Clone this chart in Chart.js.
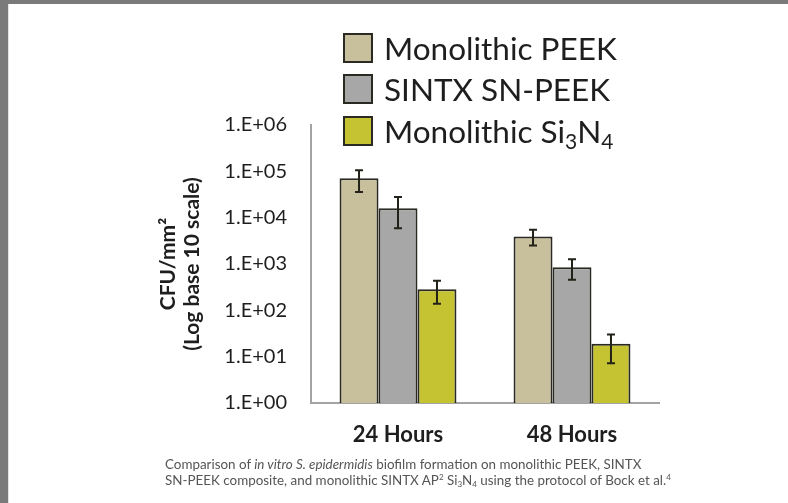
<!DOCTYPE html>
<html>
<head>
<meta charset="utf-8">
<script src="https://cdn.jsdelivr.net/npm/chart.js@4.4.1/dist/chart.umd.min.js"></script>
<style>
  html, body { margin: 0; padding: 0; background: #ffffff; overflow: hidden; }
  #page { position: relative; width: 788px; height: 503px; overflow: hidden; background: #ffffff; }
  #leftStrip { position: absolute; left: 0; top: 0; width: 8px; height: 503px; background: #7a7a7a; }
  #topStrip { position: absolute; left: 0; top: 0; width: 788px; height: 4px; background: #7a7a7a; }
  #edge { position: absolute; left: 8px; top: 4px; width: 1px; height: 499px; background: #e2e2e2; }
  #chartBox { position: absolute; left: 0; top: 0; width: 788px; height: 503px; }
  #legend { position: absolute; left: 343px; top: 27px; font-family: Lato, "Open Sans", sans-serif; color: #1e1e1e; }
  .row { display: flex; align-items: center; height: 41.5px; }
  .box { width: 26px; height: 26px; border: 2px solid #2a2a22; margin-right: 11px; box-sizing: content-box; }
  .lab { font-size: 31.5px; line-height: 34px; white-space: nowrap; }
  .lab sub { font-size: 21px; vertical-align: -6px; line-height: 0; }
  #caption { position: absolute; left: 165px; top: 456px; font-family: Lato, "Open Sans", sans-serif; font-size: 13.4px; line-height: 16px; color: #555555; white-space: nowrap; }
  #caption sup { font-size: 8px; vertical-align: 5px; line-height: 0; }
  #caption sub { font-size: 8px; vertical-align: -2px; line-height: 0; }
</style>
</head>
<body>
<div id="page">
  <div id="chartBox"><canvas id="chart" width="788" height="503"></canvas></div>
  <div id="leftStrip"></div>
  <div id="topStrip"></div>
  <div id="edge"></div>
  <div id="legend"></div>
  <div id="caption">Comparison of <i>in vitro S. epidermidis</i> biofilm formation on monolithic PEEK, SINTX<br>SN-PEEK composite, and monolithic SINTX AP<sup>2</sup> Si<sub>3</sub>N<sub>4</sub> using the protocol of Bock et al.<sup>4</sup></div>
</div>
<script>
// ---- Data ----
const categories = ['24 Hours', '48 Hours'];
const seriesNames = ['Monolithic PEEK', 'SINTX SN-PEEK', 'Monolithic Si3N4'];
const seriesLegendHtml = ['Monolithic PEEK', 'SINTX SN-PEEK', 'Monolithic Si<sub>3</sub>N<sub>4</sub>'];

const peekValues  = [71000, 3900];
const sintxValues = [16000, 850];
const si3n4Values = [285, 19];

const peekErrLow   = [36000, 2500];
const peekErrHigh  = [105000, 5500];
const sintxErrLow  = [5900, 455];
const sintxErrHigh = [28000, 1260];
const si3n4ErrLow  = [138, 7.2];
const si3n4ErrHigh = [436, 30];

const yTickValues = [1, 10, 100, 1000, 10000, 100000, 1000000];
const yTickLabels = ['1.E+00', '1.E+01', '1.E+02', '1.E+03', '1.E+04', '1.E+05', '1.E+06'];

const yTitleLines = ['CFU/mm\u00B2', '(Log base 10 scale)'];

// ---- Styles ----
const fillColors = ['#c8c09c', '#a7a7a7', '#c5c332'];
const borderColor = '#2a2a22';
const axisColor = '#a3a3a3';

// HTML legend
const legendEl = document.getElementById('legend');
seriesLegendHtml.forEach((html, i) => {
  const row = document.createElement('div');
  row.className = 'row';
  const box = document.createElement('div');
  box.className = 'box';
  box.style.background = fillColors[i];
  const lab = document.createElement('div');
  lab.className = 'lab';
  lab.innerHTML = html;
  row.appendChild(box);
  row.appendChild(lab);
  legendEl.appendChild(row);
});

const seriesValues = [peekValues, sintxValues, si3n4Values];
const errLows = [peekErrLow, sintxErrLow, si3n4ErrLow];
const errHighs = [peekErrHigh, sintxErrHigh, si3n4ErrHigh];

const errorBarPlugin = {
  id: 'errorBars',
  afterDatasetsDraw(chart) {
    const ctx = chart.ctx;
    const yScale = chart.scales.y;
    ctx.save();
    ctx.strokeStyle = '#222218';
    ctx.lineWidth = 2;
    chart.data.datasets.forEach((ds, i) => {
      const meta = chart.getDatasetMeta(i);
      meta.data.forEach((bar, j) => {
        const x = bar.x;
        const yHi = yScale.getPixelForValue(errHighs[i][j]);
        const yLo = yScale.getPixelForValue(errLows[i][j]);
        const cap = 4;
        ctx.beginPath();
        ctx.moveTo(x, yHi); ctx.lineTo(x, yLo);
        ctx.moveTo(x - cap, yHi); ctx.lineTo(x + cap, yHi);
        ctx.moveTo(x - cap, yLo); ctx.lineTo(x + cap, yLo);
        ctx.stroke();
      });
    });
    ctx.restore();
  }
};

new Chart(document.getElementById('chart'), {
  type: 'bar',
  data: {
    labels: categories,
    datasets: seriesNames.map((name, i) => ({
      label: name,
      data: seriesValues[i],
      backgroundColor: fillColors[i],
      borderColor: borderColor,
      borderWidth: 2,
      barPercentage: 1.0,
      categoryPercentage: 0.672
    }))
  },
  options: {
    responsive: false,
    animation: false,
    devicePixelRatio: 1,
    layout: { padding: { left: 152, right: 129, top: 125, bottom: 0 } },
    plugins: {
      legend: { display: false },
      tooltip: { enabled: false },
      title: { display: false }
    },
    scales: {
      x: {
        afterFit(scale) { scale.height = 100; },
        grid: { display: false, drawTicks: false },
        border: { display: true, color: axisColor, width: 2 },
        ticks: {
          padding: 19,
          color: '#1e1e1e',
          font: { family: 'Lato', size: 22, weight: 'bold' }
        }
      },
      y: {
        type: 'logarithmic',
        min: 1,
        max: 1000000,
        afterBuildTicks(scale) {
          scale.ticks = yTickValues.map(v => ({ value: v, major: true }));
        },
        afterFit(scale) { scale.width = 311 - 152; },
        grid: { display: false, drawTicks: false },
        border: { display: true, color: axisColor, width: 2 },
        ticks: {
          padding: 24,
          color: '#1e1e1e',
          font: { family: 'Lato', size: 20 },
          callback(value) {
            const idx = yTickValues.indexOf(value);
            return idx >= 0 ? yTickLabels[idx] : '';
          }
        },
        title: {
          display: true,
          text: yTitleLines,
          color: '#1e1e1e',
          padding: { top: 4, bottom: 4 },
          font: { family: 'Lato', size: 21, weight: 'bold', lineHeight: 1.15 }
        }
      }
    }
  },
  plugins: [errorBarPlugin]
});
</script>
</body>
</html>
